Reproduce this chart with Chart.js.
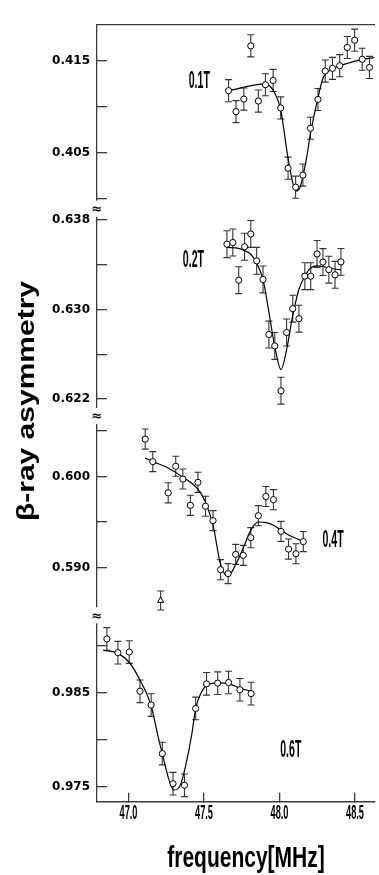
<!DOCTYPE html>
<html>
<head>
<meta charset="utf-8">
<script src="https://cdn.jsdelivr.net/npm/chart.js@4.4.1/dist/chart.umd.min.js"></script>
<style>
  html, body { margin: 0; padding: 0; background: #fff; overflow: hidden; }
</style>
</head>
<body>
<canvas id="c" width="379" height="875"></canvas>
<script>
// ---- frequency axis ----
const xTicks = [47.0, 47.5, 48.0, 48.5];

// ---- 0.1 T ----
const freq01 = [47.663, 47.712, 47.764, 47.810, 47.860, 47.907, 47.958, 48.008, 48.057, 48.107,
                48.155, 48.205, 48.255, 48.303, 48.351, 48.399, 48.449, 48.498, 48.548, 48.596];
const asym01 = [0.41176, 0.40948, 0.41084, 0.41663, 0.41063, 0.41240, 0.41287, 0.40988, 0.40333, 0.40127,
                0.40258, 0.40767, 0.41080, 0.41389, 0.41418, 0.41447, 0.41645, 0.41724, 0.41517, 0.41428];
const err01  = [0.0012, 0.0012, 0.0012, 0.0012, 0.0012, 0.0012, 0.0012, 0.0012, 0.0012, 0.0012,
                0.0012, 0.0012, 0.0012, 0.0012, 0.0012, 0.0012, 0.0012, 0.0012, 0.0012, 0.0012];
const fitF01 = [47.663, 47.908, 47.958, 48.008, 48.057, 48.093, 48.114, 48.140, 48.179, 48.205,
                48.255, 48.288, 48.321, 48.399, 48.549, 48.629];
const fitA01 = [0.41176, 0.41250, 0.41180, 0.40967, 0.40439, 0.40144, 0.40084, 0.40144, 0.40439, 0.40706,
                0.41098, 0.41311, 0.41383, 0.41447, 0.41514, 0.41535];
const ticks01 = [0.400, 0.405, 0.410, 0.415];
const labels01 = [0.405, 0.415];

// ---- 0.2 T ----
const freq02 = [47.652, 47.691, 47.730, 47.769, 47.810, 47.849, 47.891, 47.930, 47.969, 48.010,
                48.047, 48.088, 48.129, 48.168, 48.207, 48.249, 48.288, 48.327, 48.368, 48.407];
const asym02 = [0.63583, 0.63598, 0.63261, 0.63560, 0.63674, 0.63434, 0.63268, 0.62776, 0.62674, 0.62274,
                0.62794, 0.63007, 0.62917, 0.63297, 0.63297, 0.63496, 0.63423, 0.63355, 0.63309, 0.63425];
const err02  = [0.0012, 0.0012, 0.0012, 0.0012, 0.0012, 0.0012, 0.0012, 0.0012, 0.0012, 0.0012,
                0.0012, 0.0012, 0.0012, 0.0012, 0.0012, 0.0012, 0.0012, 0.0012, 0.0012, 0.0012];
const fitF02 = [47.652, 47.730, 47.769, 47.810, 47.849, 47.891, 47.930, 47.969, 48.010, 48.047,
                48.088, 48.129, 48.168, 48.207, 48.249, 48.288, 48.327, 48.368, 48.407];
const fitA02 = [0.63554, 0.63546, 0.63525, 0.63493, 0.63414, 0.63268, 0.62976, 0.62668, 0.62463, 0.62639,
                0.62946, 0.63180, 0.63297, 0.63370, 0.63390, 0.63384, 0.63370, 0.63361, 0.63355];
const ticks02 = [0.622, 0.626, 0.630, 0.634, 0.638];
const labels02 = [0.622, 0.630, 0.638];

// ---- 0.4 T ----
const freq04 = [47.111, 47.161, 47.263, 47.313, 47.360, 47.410, 47.460, 47.510, 47.560, 47.610, 47.660,
                47.710, 47.760, 47.810, 47.860, 47.910, 47.960, 48.010, 48.060, 48.109, 48.158];
const asym04 = [0.60409, 0.60162, 0.59820, 0.60111, 0.59971, 0.59683, 0.59935, 0.59673, 0.59515, 0.58977, 0.58934,
                0.59145, 0.59134, 0.59328, 0.59569, 0.59780, 0.59745, 0.59397, 0.59203, 0.59152, 0.59285];
const err04  = [0.0011, 0.0011, 0.0011, 0.0011, 0.0011, 0.0011, 0.0011, 0.0011, 0.0011, 0.0011, 0.0011,
                0.0011, 0.0011, 0.0011, 0.0011, 0.0011, 0.0011, 0.0011, 0.0011, 0.0011, 0.0011];
const freq04Tri = [47.213];
const asym04Tri = [0.58639];
const err04Tri  = [0.00104];
const fitF04 = [47.111, 47.161, 47.263, 47.360, 47.460, 47.510, 47.560, 47.610, 47.660, 47.710,
                47.760, 47.810, 47.860, 47.910, 47.960, 48.010, 48.060, 48.109, 48.158];
const fitA04 = [0.60200, 0.60162, 0.60093, 0.59992, 0.59860, 0.59716, 0.59465, 0.59034, 0.58908, 0.59034,
                0.59214, 0.59411, 0.59500, 0.59494, 0.59465, 0.59411, 0.59357, 0.59321, 0.59285];
const ticks04 = [0.590, 0.595, 0.600, 0.605];
const labels04 = [0.590, 0.600];

// ---- 0.6 T ----
const freq06 = [46.857, 46.930, 47.005, 47.076, 47.150, 47.224, 47.295, 47.371, 47.445, 47.517,
                47.591, 47.663, 47.738, 47.812];
const asym06 = [0.99070, 0.98924, 0.98931, 0.98515, 0.98369, 0.97854, 0.97535, 0.97518, 0.98333, 0.98594,
                0.98601, 0.98608, 0.98531, 0.98490];
const err06  = [0.0012, 0.0012, 0.0012, 0.0012, 0.0012, 0.0012, 0.0012, 0.0012, 0.0012, 0.0012,
                0.0012, 0.0012, 0.0012, 0.0012];
const fitF06 = [46.833, 46.930, 47.006, 47.072, 47.148, 47.201, 47.224, 47.267, 47.300, 47.343,
                47.376, 47.419, 47.445, 47.484, 47.517, 47.591, 47.663, 47.738, 47.812];
const fitA06 = [0.98952, 0.98917, 0.98820, 0.98646, 0.98369, 0.98000, 0.97854, 0.97583, 0.97468, 0.97518,
                0.97708, 0.98056, 0.98333, 0.98507, 0.98577, 0.98604, 0.98594, 0.98549, 0.98515];
const ticks06 = [0.975, 0.980, 0.985, 0.990];
const labels06 = [0.975, 0.985];

// field labels, anchored in each panel's data coordinates
const fieldNames = ['0.1T', '0.2T', '0.4T', '0.6T'];
const fieldAnchors = [
  { axis: 'y01', x: 47.469, y: 0.41279 },
  { axis: 'y02', x: 47.430, y: 0.63434 },
  { axis: 'y04', x: 48.355, y: 0.59292 },
  { axis: 'y06', x: 48.075, y: 0.97882 }
];

const AXIS = '#3a3a3a';
const pts = (xs, ys) => xs.map((x, i) => ({ x, y: ys[i] }));

function pointSet(xs, ys, errs, axis, style) {
  return {
    data: pts(xs, ys), yAxisID: axis, errors: errs, showLine: false, order: 0,
    pointStyle: style || 'circle', pointRadius: style ? 3.6 : 3.1,
    pointBackgroundColor: '#fff', pointBorderColor: '#000', pointBorderWidth: 1,
    pointHoverRadius: 0
  };
}
function fitSet(xs, ys, axis) {
  return {
    data: pts(xs, ys), yAxisID: axis, showLine: true, order: 1,
    borderColor: '#000', borderWidth: 1.2, pointRadius: 0,
    cubicInterpolationMode: 'monotone', fill: false
  };
}
function panelAxis(min, max, weight, order, tickVals, labelVals) {
  return {
    type: 'linear', position: 'left', stack: 'asym', stackWeight: weight, weight: order,
    min, max,
    afterBuildTicks: s => { s.ticks = tickVals.map(v => ({ value: v })); },
    afterFit: s => { s.width = 97; },
    border: { display: true, color: AXIS, width: 1.3 },
    grid: { drawOnChartArea: false, drawTicks: true, tickLength: -10, color: AXIS, lineWidth: 1.3 },
    ticks: {
      autoSkip: false, padding: 17, color: '#000',
      font: { family: 'DejaVu Sans', weight: 'bold', size: 12 },
      callback: v => labelVals.some(l => Math.abs(l - v) < 1e-9) ? v.toFixed(3) : ''
    }
  };
}

// squeezed text, for the narrow lettering
function narrowText(ctx, text, x, y, sx, font, align, baseline) {
  ctx.save();
  ctx.translate(x, y);
  ctx.scale(sx, 1);
  ctx.font = font;
  ctx.textAlign = align;
  ctx.textBaseline = baseline;
  ctx.fillStyle = '#000';
  ctx.fillText(text, 0, 0);
  ctx.restore();
}

const errorBars = {
  id: 'errorBars',
  beforeDatasetsDraw(chart) {
    const ctx = chart.ctx, xs = chart.scales.x;
    ctx.save();
    ctx.strokeStyle = '#333';
    ctx.lineWidth = 1.1;
    chart.data.datasets.forEach(ds => {
      if (!ds.errors) return;
      const ys = chart.scales[ds.yAxisID];
      ds.data.forEach((p, j) => {
        const px = xs.getPixelForValue(p.x);
        const t = ys.getPixelForValue(p.y + ds.errors[j]);
        const b = ys.getPixelForValue(p.y - ds.errors[j]);
        ctx.beginPath();
        ctx.moveTo(px, t); ctx.lineTo(px, b);
        ctx.moveTo(px - 3.5, t); ctx.lineTo(px + 3.5, t);
        ctx.moveTo(px - 3.5, b); ctx.lineTo(px + 3.5, b);
        ctx.stroke();
      });
    });
    ctx.restore();
  }
};

const decorations = {
  id: 'decorations',
  afterDraw(chart) {
    const ctx = chart.ctx, area = chart.chartArea, xs = chart.scales.x;
    // axis breaks between the panels
    ['y01', 'y02', 'y04'].forEach(id => {
      const s = chart.scales[id];
      const yb = s.bottom;
      ctx.save();
      ctx.fillStyle = '#fff';
      ctx.fillRect(area.left - 5, yb - 9, 10, 16);
      ctx.fillStyle = '#000';
      ctx.font = 'bold 13px "DejaVu Sans"';
      ctx.textAlign = 'center';
      ctx.textBaseline = 'middle';
      ctx.fillText('\u2248', area.left, yb);
      ctx.restore();
    });
    // frequency tick labels
    xTicks.forEach(v => {
      narrowText(ctx, v.toFixed(1), xs.getPixelForValue(v), area.bottom + 17.5, 0.46,
        'bold 20px "Liberation Sans"', 'center', 'alphabetic');
    });
    // axis titles
    narrowText(ctx, 'frequency[MHz]', area.left + 149, area.bottom + 65, 0.7,
      'bold 30px "Liberation Sans"', 'center', 'alphabetic');
    ctx.save();
    ctx.translate(34, 401);
    ctx.rotate(-Math.PI / 2);
    ctx.scale(1, 0.78);
    ctx.font = 'bold 30px "Liberation Sans"';
    ctx.textAlign = 'center';
    ctx.textBaseline = 'alphabetic';
    ctx.fillStyle = '#000';
    ctx.fillText('\u03B2-ray asymmetry', 0, 0);
    ctx.restore();
    // field labels
    fieldNames.forEach((name, i) => {
      const a = fieldAnchors[i];
      narrowText(ctx, name, xs.getPixelForValue(a.x), chart.scales[a.axis].getPixelForValue(a.y), 0.46,
        'bold 23px "Liberation Sans"', 'center', 'middle');
    });
  }
};

new Chart(document.getElementById('c'), {
  type: 'scatter',
  data: {
    datasets: [
      pointSet(freq01, asym01, err01, 'y01'),
      pointSet(freq02, asym02, err02, 'y02'),
      pointSet(freq04, asym04, err04, 'y04'),
      pointSet(freq04Tri, asym04Tri, err04Tri, 'y04', 'triangle'),
      pointSet(freq06, asym06, err06, 'y06'),
      fitSet(fitF01, fitA01, 'y01'),
      fitSet(fitF02, fitA02, 'y02'),
      fitSet(fitF04, fitA04, 'y04'),
      fitSet(fitF06, fitA06, 'y06')
    ]
  },
  options: {
    responsive: false,
    animation: false,
    devicePixelRatio: 1,
    layout: { padding: 0 },
    plugins: { legend: { display: false }, tooltip: { enabled: false } },
    scales: {
      x: {
        type: 'linear', position: 'bottom', min: 46.7915, max: 48.6287,
        afterBuildTicks: s => { s.ticks = xTicks.map(v => ({ value: v })); },
        afterFit: s => { s.height = 73.3; },
        border: { display: true, color: AXIS, width: 1.5 },
        grid: { drawOnChartArea: false, drawTicks: true, tickLength: -9, color: AXIS, lineWidth: 1.3 },
        ticks: { display: false }
      },
      xTop: {
        type: 'linear', position: 'top', min: 46.7915, max: 48.6287,
        afterFit: s => { s.height = 10; },
        border: { display: true, color: AXIS, width: 1.3 },
        grid: { display: false, drawTicks: false },
        ticks: { display: false }
      },
      y01: panelAxis(0.39881, 0.41898, 189, 4, ticks01, labels01),
      y02: panelAxis(0.62039, 0.63890, 211, 3, ticks02, labels02),
      y04: panelAxis(0.58465, 0.60651, 203, 2, ticks04, labels04),
      y06: panelAxis(0.97344, 0.99309, 188.7, 1, ticks06, labels06)
    }
  },
  plugins: [errorBars, decorations]
});
</script>
</body>
</html>
